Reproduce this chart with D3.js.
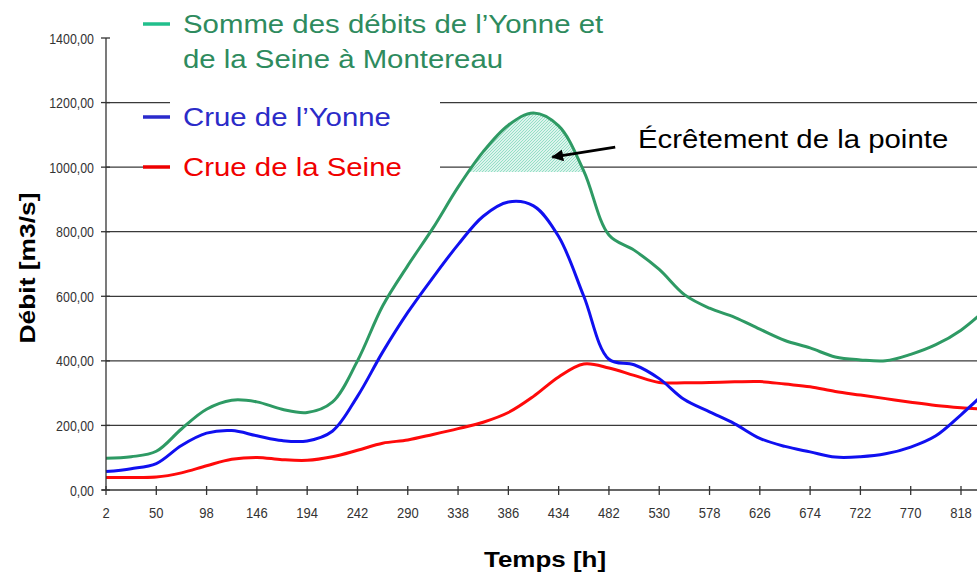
<!DOCTYPE html>
<html>
<head>
<meta charset="utf-8">
<script src="https://cdn.jsdelivr.net/npm/d3@7"></script>
<style>
  html, body { margin: 0; padding: 0; background: #fff; }
  svg { display: block; }
</style>
</head>
<body>
<svg id="chart"></svg>
<script>
// temps [h]
var hours = [2, 26, 50, 74, 98, 122, 146, 170, 194, 218, 242, 266, 290, 314, 338, 362, 386, 410,
  434, 458, 482, 506, 530, 554, 578, 602, 626, 650, 674, 698, 722, 746, 770, 794, 818, 842];
// somme Yonne + Seine a Montereau
var sumValues = [98, 103, 120, 189, 250, 278, 273, 250, 240, 272, 400, 570, 695, 811, 938, 1048, 1130, 1168,
  1128, 988, 790, 743, 683, 605, 563, 535, 498, 463, 440, 412, 403, 400, 420, 450, 495, 560];
// crue de l'Yonne
var yonneValues = [57, 66, 82, 138, 176, 184, 168, 153, 152, 182, 290, 427, 550, 658, 760, 848, 892, 880,
  785, 600, 405, 388, 345, 280, 242, 205, 160, 135, 118, 102, 103, 112, 133, 168, 233, 305];
// crue de la Seine
var seineValues = [39, 39, 40, 53, 75, 95, 101, 94, 92, 103, 123, 145, 155, 172, 190, 210, 240, 290,
  350, 390, 378, 355, 333, 332, 333, 335, 336, 328, 320, 305, 294, 283, 272, 262, 255, 250];

var xTicks = d3.range(2, 819, 48);
var yTicks = d3.range(0, 1401, 200);
var ecretementSeuil = 985;

var cfg = {
    width: 977,
    height: 575,
    left: 106,
    xEnd: 961,
    top: 38,
    bottom: 490
};

var svg = d3.select("#chart").attr("width", cfg.width).attr("height", cfg.height);

var x = d3.scaleLinear().domain([2, 818]).range([cfg.left, cfg.xEnd]);
var y = d3.scaleLinear().domain([0, 1400]).range([cfg.bottom, cfg.top]);

var tickFont = "'Liberation Sans', Arial, sans-serif";
var mainFont = "'Liberation Sans', Arial, sans-serif";

// grille
svg.append("g").selectAll("line")
    .data(yTicks.filter(function (d) { return d > 0 && d < 1400; }))
    .enter().append("line")
    .attr("x1", cfg.left).attr("x2", cfg.width)
    .attr("y1", function (d) { return y(d); }).attr("y2", function (d) { return y(d); })
    .attr("stroke", "#3a3a3a").attr("stroke-width", 1.2);

// fond blanc sous la legende (coupe la grille)
svg.append("rect").attr("x", 170).attr("y", 82).attr("width", 270).attr("height", 108).attr("fill", "#fff");

// hachures
var defs = svg.append("defs");
var pat = defs.append("pattern").attr("id", "hatch").attr("patternUnits", "userSpaceOnUse")
    .attr("width", 3).attr("height", 3);
pat.append("rect").attr("width", 3).attr("height", 3).attr("fill", "#dcf4ec");
pat.append("path").attr("d", "M0,3 L3,0 M-1,1 L1,-1 M2,4 L4,2").attr("stroke", "#8ddcc2").attr("stroke-width", 0.9);
defs.append("clipPath").attr("id", "clip-ecret").append("rect")
    .attr("x", cfg.left).attr("y", cfg.top)
    .attr("width", cfg.width - cfg.left).attr("height", y(ecretementSeuil) - cfg.top);

var sumData = hours.map(function (h, i) { return {h: h, v: sumValues[i]}; });
var yonneData = hours.map(function (h, i) { return {h: h, v: yonneValues[i]}; });
var seineData = hours.map(function (h, i) { return {h: h, v: seineValues[i]}; });

var area = d3.area()
    .x(function (d) { return x(d.h); })
    .y0(y(ecretementSeuil))
    .y1(function (d) { return y(d.v); })
    .curve(d3.curveCatmullRom);
svg.append("path").attr("d", area(sumData)).attr("fill", "url(#hatch)").attr("clip-path", "url(#clip-ecret)");

// courbes
var line = d3.line()
    .x(function (d) { return x(d.h); })
    .y(function (d) { return y(d.v); })
    .curve(d3.curveCatmullRom);
[[seineData, "#ff0a0a"], [yonneData, "#1010f0"], [sumData, "#2e9a64"]].forEach(function (s) {
    svg.append("path").attr("d", line(s[0]))
        .attr("fill", "none").attr("stroke", s[1]).attr("stroke-width", 3)
        .attr("stroke-linejoin", "round");
});

// axes
var axisColor = "#333";
svg.append("line").attr("x1", cfg.left).attr("x2", cfg.left)
    .attr("y1", y(1400)).attr("y2", y(0)).attr("stroke", axisColor).attr("stroke-width", 1.3);
svg.append("line").attr("x1", cfg.left - 4).attr("x2", cfg.width)
    .attr("y1", y(0)).attr("y2", y(0)).attr("stroke", axisColor).attr("stroke-width", 1.3);

var yg = svg.append("g");
yg.selectAll("line").data(yTicks).enter().append("line")
    .attr("x1", cfg.left - 5).attr("x2", cfg.left + 4)
    .attr("y1", function (d) { return y(d); }).attr("y2", function (d) { return y(d); })
    .attr("stroke", axisColor).attr("stroke-width", 1.3);
yg.selectAll("text").data(yTicks).enter().append("text")
    .attr("transform", function (d) { return "translate(94," + (y(d) + 5.5) + ") scale(0.8,1)"; })
    .attr("text-anchor", "end")
    .style("font-family", tickFont).style("font-size", "15.5px").style("fill", "#333")
    .text(function (d) { return d3.format(".2f")(d).replace(".", ","); });

var xg = svg.append("g");
xg.selectAll("line").data(xTicks).enter().append("line")
    .attr("x1", function (d) { return x(d); }).attr("x2", function (d) { return x(d); })
    .attr("y1", y(0) - 4).attr("y2", y(0) + 5)
    .attr("stroke", axisColor).attr("stroke-width", 1.3);
xg.selectAll("text").data(xTicks).enter().append("text")
    .attr("transform", function (d) { return "translate(" + x(d) + ",518) scale(0.84,1)"; })
    .attr("text-anchor", "middle")
    .style("font-family", tickFont).style("font-size", "15.5px").style("fill", "#333")
    .text(function (d) { return d; });

// titres des axes
svg.append("text")
    .attr("transform", "translate(35,268) rotate(-90) scale(1.2,1)")
    .attr("text-anchor", "middle")
    .style("font-family", mainFont).style("font-weight", "bold")
    .style("font-size", "22px").style("fill", "#000")
    .text("Débit [m3/s]");
svg.append("text")
    .attr("transform", "translate(545,567) scale(1.18,1)")
    .attr("text-anchor", "middle")
    .style("font-family", mainFont).style("font-weight", "bold")
    .style("font-size", "22px").style("fill", "#000")
    .text("Temps [h]");

// legende
var legend = [
    {mark: "#22bf8c", color: "#2e8b5e", my: 24, lines: ["Somme des débits de l’Yonne et", "de la Seine à Montereau"], ty: 33},
    {mark: "#2a2acc", color: "#2b2bc8", my: 117, lines: ["Crue de l’Yonne"], ty: 126},
    {mark: "#ee0000", color: "#f00000", my: 167, lines: ["Crue de la Seine"], ty: 176}
];
legend.forEach(function (l) {
    svg.append("line").attr("x1", 143).attr("x2", 170).attr("y1", l.my).attr("y2", l.my)
        .attr("stroke", l.mark).attr("stroke-width", 3.5);
    l.lines.forEach(function (t, i) {
        svg.append("text")
            .attr("transform", "translate(183," + (l.ty + i * 35) + ") scale(1.13,1)")
            .style("font-family", mainFont).style("font-size", "26px").style("fill", l.color)
            .text(t);
    });
});

// annotation
defs.append("marker").attr("id", "arrow").attr("viewBox", "0 0 10 10")
    .attr("refX", 9).attr("refY", 5).attr("markerWidth", 4).attr("markerHeight", 4)
    .attr("orient", "auto")
    .append("path").attr("d", "M0,0 L10,5 L0,10 z").attr("fill", "#000");
svg.append("line")
    .attr("x1", x(488)).attr("y1", y(1062))
    .attr("x2", x(428)).attr("y2", y(1031))
    .attr("stroke", "#000").attr("stroke-width", 3).attr("marker-end", "url(#arrow)");
svg.append("text")
    .attr("transform", "translate(638,148) scale(1.13,1)")
    .style("font-family", mainFont).style("font-size", "26px").style("fill", "#000")
    .text("Écrêtement de la pointe");
</script>
</body>
</html>
